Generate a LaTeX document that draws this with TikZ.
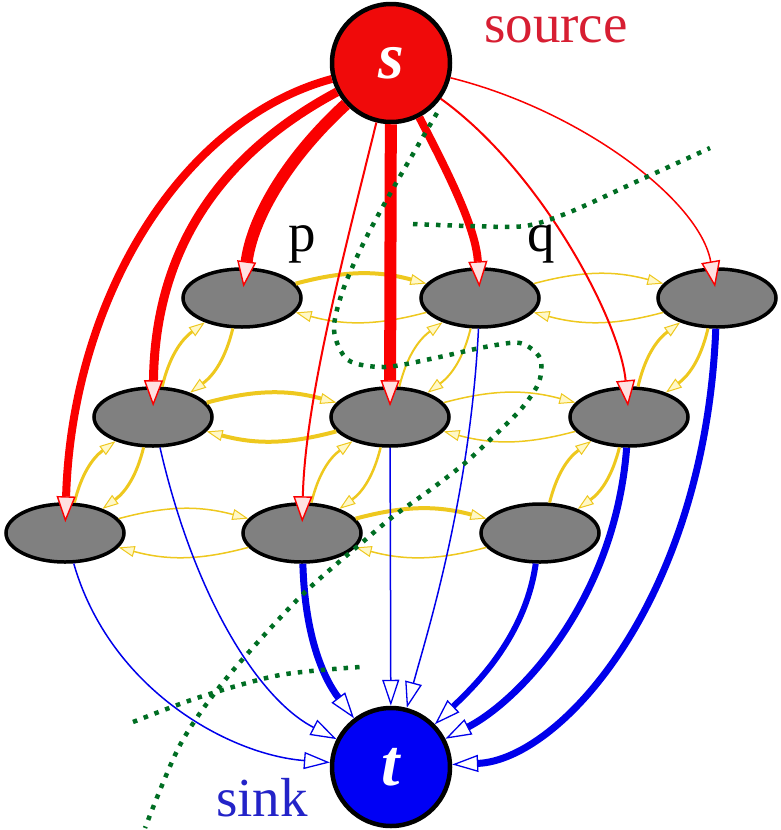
\documentclass[tikz,border=0pt]{standalone}
\usepackage{fontspec}
\setmainfont{Liberation Serif}
\usetikzlibrary{arrows.meta,shapes.geometric}
\definecolor{sred}{RGB}{240,10,10}
\definecolor{ered}{RGB}{250,0,0}
\definecolor{pinkf}{RGB}{255,225,225}
\definecolor{eblue}{RGB}{0,0,235}
\definecolor{tblue}{RGB}{0,0,245}
\definecolor{yel}{RGB}{238,200,30}
\definecolor{yelf}{RGB}{255,248,200}
\definecolor{cutgreen}{RGB}{0,110,35}
\definecolor{labred}{RGB}{215,30,50}
\definecolor{labblue}{RGB}{35,35,200}
\definecolor{nodegray}{RGB}{128,128,128}
\begin{document}
\begin{tikzpicture}[x=1pt,y=-1pt,
 term/.style={circle,draw=black,line width=4.5pt,minimum size=118pt,inner sep=0pt,text=white,font=\fontsize{66}{66}\selectfont\bfseries\itshape},
 pix/.style={ellipse,draw=black,line width=3.5pt,fill=nodegray,minimum width=118pt,minimum height=58pt,inner sep=0pt},
 redarrow/.style={draw=ered,line width=#1,-{Triangle[length=26pt,width=19pt,fill=pinkf,line width=1.4pt]},shorten >=-20pt},
 bluearrow/.style={draw=eblue,line width=#1,-{Triangle[length=26pt,width=17pt,fill=white,line width=1.3pt]}},
 yarrow/.style={draw=yel,line width=#1,-{Triangle[length=16pt,width=11pt,fill=yelf,line width=1pt]}},
 cut/.style={draw=cutgreen,line width=4.5pt,dash pattern=on 4.5pt off 7pt},
 lab/.style={font=\fontsize{55}{55}\selectfont,inner sep=0pt,anchor=base west}]
\useasboundingbox (0,0) rectangle (780,830);
% terminals
\node[term,fill=sred] (s) at (391,63) {s};
\node[term,fill=tblue] (t) at (391,767) {t};
% pixels
\node[pix] (n11) at (242,298) {};
\node[pix] (n12) at (480,298) {};
\node[pix] (n13) at (717,298) {};
\node[pix] (n21) at (153,417) {};
\node[pix] (n22) at (390,417) {};
\node[pix] (n23) at (629,417) {};
\node[pix] (n31) at (65,533) {};
\node[pix] (n32) at (302,533) {};
\node[pix] (n33) at (540,533) {};
% labels
\node[lab,text=labred] (srclab) at (484,42) {source};
\node[lab,text=labblue] (sinklab) at (216,816) {sink};
\node[lab] (plab) at (288,251) {p};
\node[lab] (qlab) at (527,251) {q};
% neighbourhood edges (horizontal)
\foreach \a/\b/\wu/\wl in {n11/n12/4/1.5, n12/n13/1.5/1.5, n21/n22/4/4, n22/n23/1.5/1.5, n31/n32/1.5/1.5, n32/n33/4/1.5}
{
 \draw[yarrow=\wu pt] (\a) to[bend left=15] (\b);
 \draw[yarrow=\wl pt] (\b) to[bend left=15] (\a);
}
% neighbourhood edges (diagonal)
\foreach \a/\b/\wu/\wl in {n21/n11/3/3, n31/n21/3/3, n22/n12/2/2, n32/n22/2.5/2.5, n23/n13/3/3, n33/n23/3/3}
{
 \draw[yarrow=\wu pt] (\a) to[bend left=20] (\b);
 \draw[yarrow=\wl pt] (\b) to[bend left=20] (\a);
}
% source edges
\draw[redarrow=8pt] (s) .. controls (180,120) and (72,300) .. (n31);
\draw[redarrow=9pt] (s) .. controls (210,160) and (155,260) .. (n21);
\draw[redarrow=12pt] (s) .. controls (285,160) and (252,220) .. (n11);
\draw[redarrow=2pt] (s) .. controls (345,250) and (305,400) .. (n32);
\draw[redarrow=12pt] (s) -- (n22);
\draw[redarrow=8pt] (s) .. controls (452,180) and (476,230) .. (n12);
\draw[redarrow=2pt] (s) .. controls (540,170) and (620,320) .. (n23);
\draw[redarrow=1.5pt] (s) .. controls (580,110) and (700,200) .. (n13);
% sink edges
\draw[bluearrow=1.5pt] (n31) .. controls (110,690) and (230,755) .. (t);
\draw[bluearrow=1.5pt] (n21) .. controls (195,600) and (260,700) .. (t);
\draw[bluearrow=7pt] (n32) .. controls (305,640) and (325,680) .. (t);
\draw[bluearrow=1.5pt] (n22) -- (t);
\draw[bluearrow=1.5pt] (n12) .. controls (470,500) and (425,640) .. (t);
\draw[bluearrow=6pt] (n33) .. controls (525,640) and (470,690) .. (t);
\draw[bluearrow=7pt] (n23) .. controls (615,600) and (520,700) .. (t);
\draw[bluearrow=7pt] (n13) .. controls (705,600) and (560,760) .. (t);
% cut
\draw[cut] plot[smooth] coordinates {(413,224) (470,226) (525,226) (570,212) (640,180) (710,148)};
\draw[cut] plot[smooth] coordinates {(437,113) (395,185) (365,240) (343,290) (334,330) (348,360) (385,367) (435,358) (485,347) (520,343) (540,358) (539,382) (522,408) (495,435) (465,463) (430,490) (395,515) (365,540) (300,597) (225,680) (180,745) (145,828)};
\draw[cut] plot[smooth] coordinates {(133,722) (200,697) (280,675) (360,667)};
\end{tikzpicture}
\end{document}
